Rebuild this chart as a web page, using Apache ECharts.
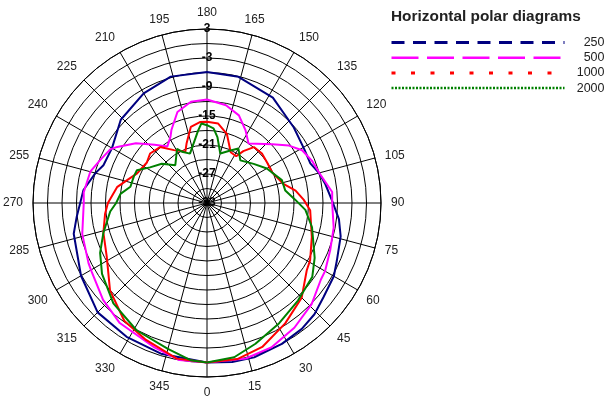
<!DOCTYPE html>
<html>
<head>
<meta charset="utf-8">
<script src="https://cdn.jsdelivr.net/npm/echarts@6/dist/echarts.min.js"></script>
<style>
  html, body { margin: 0; padding: 0; background: #fff; }
  #chart { width: 608px; height: 400px; }
</style>
</head>
<body>
<div id="chart"></div>
<script>
// Frequencies (Hz) shown in the legend
const seriesNames = ['250', '500', '1000', '2000'];
const seriesColors = ['#000080', '#ff00ff', '#ff0000', '#008000'];

// Relative level (dB) against direction (degrees) for each frequency
const angle250 = [0, 9, 17, 28, 37, 44, 51, 60, 66, 76, 83, 91, 99, 105, 111, 119, 131, 148, 166, 180, 196, 210, 226, 240, 250, 255, 264, 276, 283, 300, 315, 329, 343, 360];
const level250 = [0, 0.3, 0.4, 0, -0.4, -1.0, -2.0, -2.7, -3.6, -4.5, -5.5, -7.1, -8.2, -9.0, -10.1, -10.0, -9.2, -7.3, -6.1, -5.9, -5.8, -6.8, -8.2, -10.3, -10.2, -9.1, -7.3, -5.9, -4.7, -2.9, -1.0, -0.7, -0.4, 0];

const angle500 = [0, 14, 24, 35, 46, 56, 60, 69, 79, 90, 95, 104, 112, 119, 125, 132, 140, 145, 152, 160, 169, 180, 189, 198, 206, 209, 215, 222, 230, 238, 241, 248, 255, 265, 270, 284, 297, 301, 313, 324, 340, 350, 360];
const level500 = [0, 0.15, -0.3, -1.5, -2.9, -4.6, -4.8, -5.7, -6.3, -7.1, -7.0, -8.8, -9.6, -10.5, -12.3, -14.8, -17.0, -18.0, -16.0, -13.7, -12.4, -11.6, -11.8, -13.2, -16.2, -17.4, -18.7, -16.8, -13.8, -11.1, -10.1, -9.2, -8.0, -7.4, -7.5, -6.4, -5.5, -5.2, -3.6, -2.3, -1.2, 0, 0];

const angle1000 = [0, 11, 21, 33, 45, 56, 61, 72, 86, 92, 98, 104, 115, 124, 132, 140, 145, 148, 155, 164, 172, 180, 185, 192, 199, 203, 212, 220, 229, 236, 247, 254, 260, 270, 276, 286, 298, 312, 325, 336, 349, 360];
const level1000 = [0, -0.1, -1.1, -3.3, -5.3, -8.1, -8.6, -10.2, -11.6, -13.0, -14.5, -16.7, -18.1, -18.0, -17.7, -17.9, -19.9, -21.6, -21.4, -18.1, -16.4, -16.2, -16.2, -16.9, -20.0, -21.5, -20.1, -17.9, -17.4, -18.0, -17.3, -15.8, -14.1, -12.5, -11.8, -10.7, -9.5, -6.0, -3.2, -2.0, -0.2, 0];

const angle2000 = [0, 10, 19, 31, 43, 55, 63, 77, 86, 92, 99, 107, 120, 130, 142, 150, 156, 165, 171, 175, 180, 184, 187, 199, 206, 209, 220, 229, 238, 245, 250, 258, 264, 270, 275, 286, 295, 304, 317, 331, 345, 354, 360];
const level2000 = [0, -0.6, -2.2, -4.0, -5.4, -6.4, -8.0, -10.7, -12.6, -14.7, -16.6, -16.8, -18.7, -20.4, -21.8, -20.0, -21.1, -22.4, -19.2, -17.5, -16.9, -16.5, -17.9, -22.2, -21.2, -20.2, -22.8, -20.6, -19.1, -17.0, -16.9, -16.8, -15.0, -14.2, -12.9, -10.7, -8.6, -6.8, -4.6, -2.9, -1.75, -0.3, 0];

const angleSets = [angle250, angle500, angle1000, angle2000];
const levelSets = [level250, level500, level1000, level2000];

// Legend line patterns
const legendDash = [[13, 8.5], [27, 8.5], [4, 15.5], [2, 1.5]];
const legendWidth = [3, 2.5, 3, 2.5];

const FONT = '"Liberation Sans", Arial, sans-serif';
const CENTER = [207, 203];
const RADIUS = 174;

const chart = echarts.init(document.getElementById('chart'), null, { renderer: 'canvas' });

const series = seriesNames.map((name, i) => ({
  name: name,
  type: 'line',
  coordinateSystem: 'polar',
  polarIndex: 0,
  symbol: 'none',
  smooth: false,
  color: seriesColors[i],
  lineStyle: { color: seriesColors[i], width: 2 },
  data: angleSets[i].map((a, k) => [levelSets[i][k], a])
}));

chart.setOption({
  animation: false,
  textStyle: { fontFamily: FONT },
  title: {
    text: 'Horizontal polar diagrams',
    left: 386,
    top: 4,
    textStyle: { fontFamily: FONT, fontSize: 15.4, fontWeight: 'bold', color: '#222' }
  },
  legend: {
    orient: 'vertical',
    left: 390,
    top: 36,
    padding: 0,
    itemWidth: 173,
    itemHeight: 14,
    itemGap: 2.2,
    itemStyle: { color: 'rgba(0,0,0,0)', borderWidth: 0 },
    data: seriesNames.map((n, i) => ({
      name: n,
      itemStyle: { color: 'rgba(0,0,0,0)', borderWidth: 0 },
      lineStyle: { type: legendDash[i], width: legendWidth[i], color: seriesColors[i] }
    })),
    formatter: n => '{v|' + n + '}',
    textStyle: {
      fontFamily: FONT,
      rich: { v: { width: 35, align: 'right', fontSize: 12.5, color: '#222', fontFamily: FONT } }
    }
  },
  polar: [
    { center: CENTER, radius: RADIUS },
    { center: CENTER, radius: RADIUS }
  ],
  angleAxis: [
    {
      polarIndex: 0,
      type: 'value',
      min: 0,
      max: 360,
      interval: 15,
      startAngle: 270,
      clockwise: false,
      axisLine: { show: true, lineStyle: { color: '#000', width: 1 } },
      axisTick: { show: false },
      splitLine: { show: true, lineStyle: { color: '#000', width: 1 } },
      axisLabel: {
        margin: 10,
        fontSize: 12,
        color: '#222',
        fontFamily: FONT,
        formatter: v => (v === 360 ? '' : String(v))
      }
    },
    {
      polarIndex: 1,
      type: 'value',
      min: 0,
      max: 360,
      startAngle: 90,
      show: false
    }
  ],
  radiusAxis: [
    {
      polarIndex: 0,
      type: 'value',
      min: -33,
      max: 3,
      interval: 3,
      axisLine: { show: false },
      axisTick: { show: false },
      axisLabel: { show: false },
      splitLine: { show: true, lineStyle: { color: '#000', width: 1 } }
    },
    {
      polarIndex: 1,
      type: 'value',
      min: -33,
      max: 3,
      interval: 6,
      axisLine: { show: false },
      axisTick: { show: false },
      splitLine: { show: false },
      axisLabel: {
        margin: 0,
        align: 'center',
        verticalAlign: 'middle',
        fontSize: 12,
        fontWeight: 'bold',
        color: '#000',
        fontFamily: FONT
      }
    }
  ],
  series: series
});
</script>
</body>
</html>
